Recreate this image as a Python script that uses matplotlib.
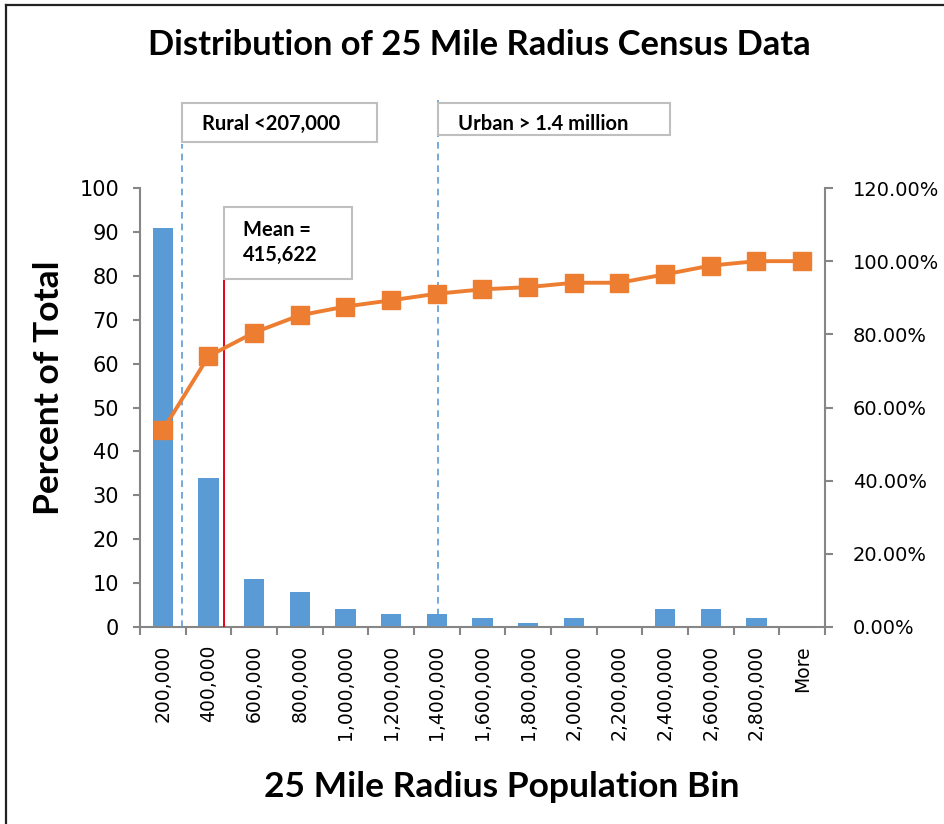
import matplotlib.pyplot as plt
from matplotlib.patches import Rectangle
from matplotlib.lines import Line2D
from matplotlib.ticker import FuncFormatter

# bins and counts
bins = ['200,000', '400,000', '600,000', '800,000', '1,000,000', '1,200,000',
        '1,400,000', '1,600,000', '1,800,000', '2,000,000', '2,200,000',
        '2,400,000', '2,600,000', '2,800,000', 'More']
percent = [91, 34, 11, 8, 4, 3, 3, 2, 1, 2, 0, 4, 4, 2, 0]
cumulative = [53.8, 74.0, 80.5, 85.2, 87.6, 89.3, 91.1, 92.3, 92.9, 94.1,
              94.1, 96.4, 98.8, 100.0, 100.0]

# marker lines (in bin units, as placed in the original)
rural_x = 0.41
mean_x = 1.35
urban_x = 6.03

BLUE = '#5B9BD5'
ORANGE = '#ED7D31'
GRAY = '#868686'
TITLE_FONT = ['Lato', 'DejaVu Sans']

W, H = 945, 824
fig = plt.figure(figsize=(W / 100, H / 100), dpi=100)

def fx(px):
    return px / W

def fy(py):
    return 1 - py / H

ax = fig.add_axes([fx(140), fy(627), fx(825) - fx(140), fy(188) - fy(627)])
x = list(range(len(bins)))

ax.bar(x, percent, width=0.44, color=BLUE, zorder=2)
ax.set_xlim(-0.5, len(bins) - 0.5)
ax.set_ylim(0, 100)
ax.set_yticks(range(0, 101, 10))

# ticks on the bin edges, labels at centres
ax.set_xticks([i - 0.5 for i in range(len(bins) + 1)])
ax.set_xticklabels([])
ax.set_xticks(x, minor=True)
ax.set_xticklabels(bins, minor=True, rotation=90)
ax.tick_params(axis='x', which='major', length=6, color=GRAY, width=1.5)
ax.tick_params(axis='x', which='minor', length=0, pad=13, labelsize=13.5,
               labelfontfamily='DejaVu Sans')
ax.tick_params(axis='y', length=5, color=GRAY, width=1.5, pad=10, labelsize=15,
               labelfontfamily='DejaVu Sans')

for s in ['top', 'right']:
    ax.spines[s].set_visible(False)
for s in ['left', 'bottom']:
    ax.spines[s].set_color(GRAY)
    ax.spines[s].set_linewidth(1.5)

# reference lines
ax.plot([rural_x, rural_x], [0, 110], color=BLUE, lw=1.2, ls=(0, (4, 3)),
        clip_on=False, zorder=3)
ax.plot([urban_x, urban_x], [0, 120], color=BLUE, lw=1.2, ls=(0, (4, 3)),
        clip_on=False, zorder=3)
ax.plot([mean_x, mean_x], [0, 79.2], color='#E3001B', lw=1.4, zorder=3)

# annotation boxes
box_kw = dict(facecolor='white', edgecolor='#BFBFBF', lw=1.5, clip_on=False, zorder=4)
ax.add_patch(Rectangle((0.426, 110.4), 4.68 - 0.426, 119.3 - 110.4, **box_kw))
ax.add_patch(Rectangle((6.03, 112.1), 11.11 - 6.03, 119.3 - 112.1, **box_kw))
ax.add_patch(Rectangle((1.34, 79.3), 4.15 - 1.34, 95.6 - 79.3, **box_kw))

txt_kw = dict(fontsize=14.5, fontweight='bold', family=TITLE_FONT, va='center',
              ha='left', zorder=5, clip_on=False)
ax.text(0.857, 114.5, 'Rural <207,000', **txt_kw)
ax.text(6.465, 114.5, 'Urban > 1.4 million', **txt_kw)
ax.text(1.75, 90.5, 'Mean =', **txt_kw)
ax.text(1.75, 84.8, '415,622', **txt_kw)

# cumulative % on the right axis
ax2 = ax.twinx()
ax2.plot(x, cumulative, color=ORANGE, lw=2.8, marker='s', markersize=13,
         zorder=5)
ax2.set_ylim(0, 120)
ax2.set_yticks(range(0, 121, 20))
ax2.yaxis.set_major_formatter(FuncFormatter(lambda v, p: f'{v:.2f}%'))
ax2.tick_params(axis='y', length=6, color=GRAY, width=1.5, pad=14, labelsize=14,
                labelfontfamily='DejaVu Sans')
for s in ['top', 'left', 'bottom']:
    ax2.spines[s].set_visible(False)
ax2.spines['right'].set_color(GRAY)
ax2.spines['right'].set_linewidth(1.5)

# titles
fig.text(fx(479), fy(45), 'Distribution of 25 Mile Radius Census Data',
         fontsize=24.8, fontweight='bold', family=TITLE_FONT, ha='center', va='center')
fig.text(fx(49), fy(388), 'Percent of Total', rotation=90,
         fontsize=25.5, fontweight='bold', family=TITLE_FONT, ha='center', va='center')
fig.text(fx(502), fy(787), '25 Mile Radius Population Bin',
         fontsize=25.5, fontweight='bold', family=TITLE_FONT, ha='center', va='center')

# frame lines at top and left edge
fig.add_artist(Line2D([fx(6), 1], [fy(5), fy(5)], color='#222222', lw=1.6))
fig.add_artist(Line2D([fx(6), fx(6)], [fy(5), 0], color='#222222', lw=1.6))

fig.savefig('out.png', dpi=100)
